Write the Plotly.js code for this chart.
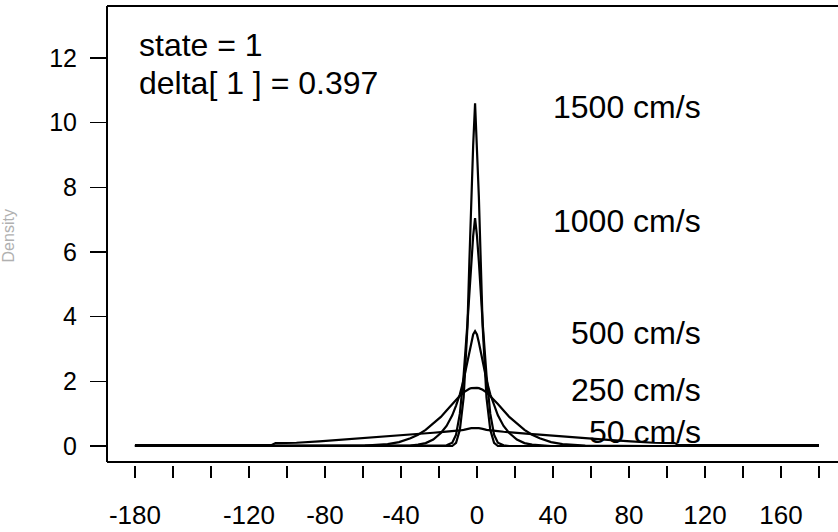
<!DOCTYPE html>
<html>
<head>
<meta charset="utf-8">
<script src="https://cdn.plot.ly/plotly-3.0.1.min.js"></script>
<style>html,body{margin:0;padding:0;background:#fff;}#chart{width:838px;height:532px;}</style>
</head>
<body>
<div id="chart"></div>
<script>
// turning angle (degrees)
const angle = [-180, -108, -106, -95, -83, -71, -59, -47, -41, -35, -31, -27, -23, -19, -16, -13, -11, -9, -7, -5, -4, -3, -2, -1, 0, 1, 2, 3, 5, 7, 9, 11, 14, 17, 21, 25, 29, 33, 39, 45, 57, 69, 81, 93, 104, 106, 180];

// density for each speed
const dens1500 = [0, 0, 0, 0, 0, 0, 0, 0, 0, 0, 0, 0, 0, 0, 0, 0, 0.1, 0.5, 1.5, 3.7, 5.7, 7.7, 9.3, 10.6, 9.3, 7.7, 5.7, 3.7, 1.5, 0.5, 0.1, 0, 0, 0, 0, 0, 0, 0, 0, 0, 0, 0, 0, 0, 0, 0, 0];
const dens1000 = [0, 0, 0, 0, 0, 0, 0, 0, 0, 0, 0, 0, 0, 0, 0.02, 0.1, 0.35, 1.0, 2.2, 3.8, 4.7, 5.7, 6.5, 7.05, 6.5, 5.7, 4.7, 3.8, 2.2, 1.0, 0.35, 0.1, 0.02, 0, 0, 0, 0, 0, 0, 0, 0, 0, 0, 0, 0, 0, 0];
const dens500 = [0, 0, 0, 0, 0, 0, 0, 0, 0, 0.015, 0.04, 0.09, 0.2, 0.4, 0.62, 0.95, 1.25, 1.6, 2.05, 2.6, 2.9, 3.2, 3.45, 3.55, 3.45, 3.2, 2.9, 2.6, 2.05, 1.6, 1.25, 0.95, 0.62, 0.4, 0.2, 0.09, 0.04, 0.015, 0, 0, 0, 0, 0, 0, 0, 0, 0];
const dens250 = [0, 0, 0, 0, 0, 0, 0.01, 0.06, 0.12, 0.24, 0.35, 0.5, 0.7, 0.9, 1.1, 1.3, 1.43, 1.55, 1.66, 1.74, 1.77, 1.79, 1.8, 1.8, 1.8, 1.79, 1.77, 1.74, 1.66, 1.55, 1.43, 1.3, 1.1, 0.9, 0.7, 0.5, 0.35, 0.24, 0.12, 0.06, 0.01, 0, 0, 0, 0, 0, 0];
const dens50 = [0.03, 0.03, 0.09, 0.1, 0.14, 0.19, 0.24, 0.29, 0.32, 0.35, 0.37, 0.39, 0.41, 0.43, 0.44, 0.46, 0.47, 0.48, 0.5, 0.53, 0.55, 0.55, 0.55, 0.56, 0.55, 0.55, 0.55, 0.53, 0.5, 0.48, 0.47, 0.46, 0.44, 0.43, 0.41, 0.39, 0.37, 0.35, 0.32, 0.29, 0.24, 0.19, 0.14, 0.1, 0.09, 0.03, 0.03];

const speedLabels = ["1500 cm/s", "1000 cm/s", "500 cm/s", "250 cm/s", "50 cm/s"];
const xTickVals = [-180, -160, -140, -120, -100, -80, -60, -40, -20, 0, 20, 40, 60, 80, 100, 120, 140, 160, 180];
const xTickText = ["-180", "", "", "-120", "", "-80", "", "-40", "", "0", "", "40", "", "80", "", "120", "", "160", ""];
const yTickVals = [0, 2, 4, 6, 8, 10, 12];
const infoLines = ["state = 1", "delta[ 1 ] = 0.397"];
const yTitle = "Density";

const series = [dens1500, dens1000, dens500, dens250, dens50];
const FONT = '"Liberation Sans", Arial, Helvetica, sans-serif';

const traces = series.map((ys, i) => ({
  type: 'scatter', mode: 'lines', x: angle, y: ys, name: speedLabels[i],
  line: {color: '#000', width: 2.2}, showlegend: false, hoverinfo: 'skip'
}));

// label positions (layout)
const labelY = [10.5, 6.97, 3.48, 1.72, 0.42];
const annotations = speedLabels.map((t, i) => ({
  xref: 'x', yref: 'y', x: 119, y: labelY[i], xanchor: 'right', yanchor: 'middle',
  text: t, showarrow: false, font: {family: FONT, size: 32, color: '#000'}
}));
annotations.push({xref: 'x', yref: 'paper', x: -179, y: 0.915, xanchor: 'left', yanchor: 'middle',
  text: infoLines[0], showarrow: false, font: {family: FONT, size: 32, color: '#000'}});
annotations.push({xref: 'x', yref: 'paper', x: -179, y: 0.833, xanchor: 'left', yanchor: 'middle',
  text: infoLines[1], showarrow: false, font: {family: FONT, size: 32, color: '#000'}});
annotations.push({xref: 'paper', yref: 'paper', x: -0.1341, y: 0.5, xanchor: 'center', yanchor: 'middle',
  text: yTitle, textangle: -90, showarrow: false, font: {family: FONT, size: 16, color: '#b0b0b0'}});

const boxY = 0.0065;
const shapes = [
  {type: 'line', xref: 'paper', yref: 'paper', x0: 0, x1: 1.01, y0: 1, y1: 1, line: {color: '#000', width: 2}},
  {type: 'line', xref: 'paper', yref: 'paper', x0: 0, x1: 1.01, y0: boxY, y1: boxY, line: {color: '#000', width: 2}},
  {type: 'line', xref: 'paper', yref: 'paper', x0: 0, x1: 0, y0: boxY, y1: 1, line: {color: '#000', width: 2}}
];

const layout = {
  width: 838, height: 532,
  margin: {l: 107, r: 0, t: 6, b: 67, pad: 0},
  paper_bgcolor: '#fff', plot_bgcolor: '#fff',
  font: {family: FONT, color: '#000'},
  showlegend: false,
  xaxis: {
    range: [-194.7, 190.0], showgrid: false, zeroline: false, showline: false,
    tickmode: 'array', tickvals: xTickVals, ticktext: xTickText,
    ticks: 'outside', ticklen: 12, tickwidth: 1.5, tickcolor: '#000',
    tickfont: {family: FONT, size: 26, color: '#000'}, ticklabelstandoff: 15
  },
  yaxis: {
    range: [-0.588, 13.61], showgrid: false, zeroline: false, showline: false,
    tickmode: 'array', tickvals: yTickVals,
    ticks: 'outside', ticklen: 16, tickwidth: 1.5, tickcolor: '#000',
    tickfont: {family: FONT, size: 25, color: '#000'}, ticklabelstandoff: 8
  },
  shapes: shapes,
  annotations: annotations
};

Plotly.newPlot('chart', traces, layout, {staticPlot: true, displayModeBar: false});
</script>
</body>
</html>
